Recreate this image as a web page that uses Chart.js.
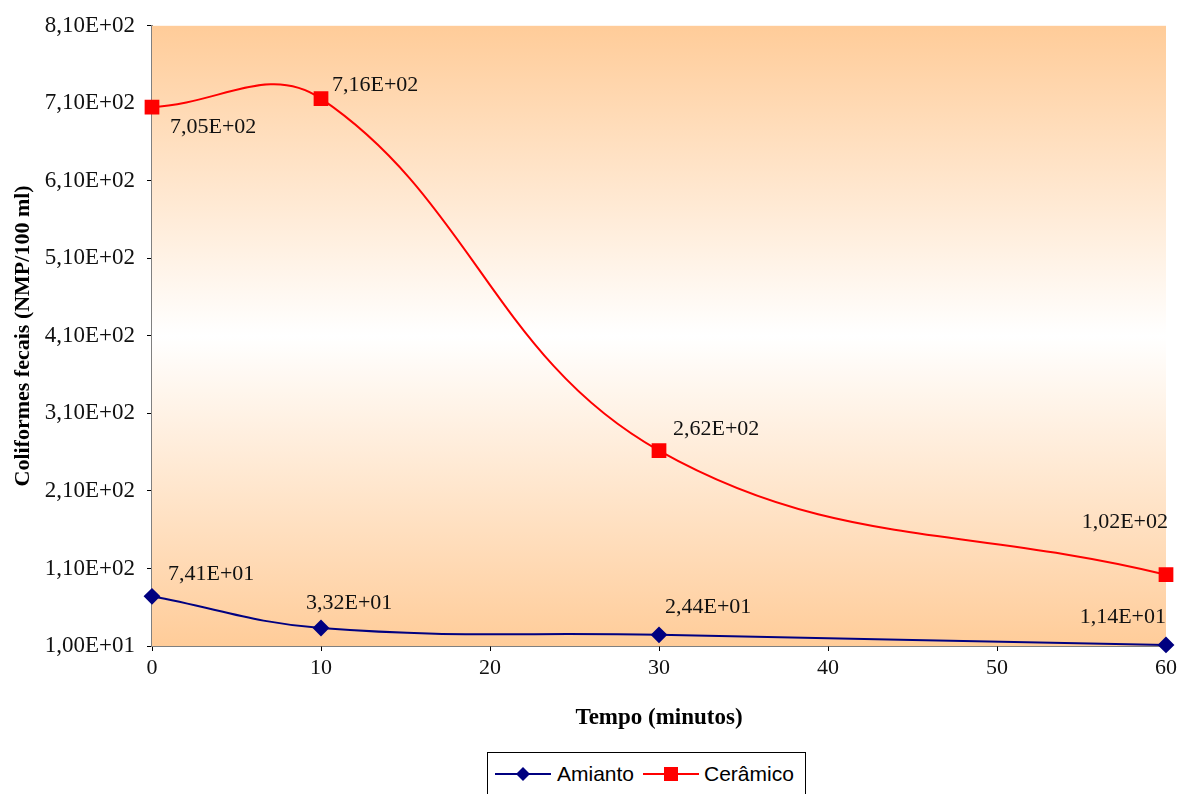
<!DOCTYPE html>
<html lang="pt">
<head>
<meta charset="utf-8">
<title>Coliformes fecais</title>
<script src="https://cdn.jsdelivr.net/npm/chart.js@4.4.1/dist/chart.umd.min.js"></script>
<style>
  html, body { margin: 0; padding: 0; background: #fff; }
  #wrap { position: relative; width: 1186px; height: 794px; overflow: hidden; }
  #grafico { position: absolute; left: 0; top: 0; }
  #legenda {
    position: absolute; left: 487px; top: 752px; width: 317px; height: 60px;
    border: 1px solid #000; background: #fff;
    font-family: "Liberation Sans", Arial, sans-serif; font-size: 21px; color: #000;
  }
  #legenda .item { position: absolute; top: 8px; height: 26px; line-height: 26px; white-space: nowrap; }
  #legenda svg { position: absolute; top: 14px; }
</style>
</head>
<body>
<div id="wrap">
  <canvas id="grafico" width="1186" height="794"></canvas>
  <div id="legenda">
    <svg style="left:7px" width="56" height="14" viewBox="0 0 56 14">
      <line x1="0" y1="7" x2="56" y2="7" stroke="#000080" stroke-width="2"/>
      <polygon points="28,0 35,7 28,14 21,7" fill="#000080"/>
    </svg>
    <span class="item" style="left:69px">Amianto</span>
    <svg style="left:155px" width="56" height="14" viewBox="0 0 56 14">
      <line x1="0" y1="7" x2="56" y2="7" stroke="#ff0000" stroke-width="2"/>
      <rect x="21" y="0" width="14" height="14" fill="#ff0000"/>
    </svg>
    <span class="item" style="left:216px">Cerâmico</span>
  </div>
</div>
<script>
// dados
const tempos = [0, 10, 30, 60];
const amianto = [74.1, 33.2, 24.4, 11.4];
const ceramico = [705, 716, 262, 102];
const yMin = 10, yMax = 810, yPasso = 100;
const xMin = 0, xMax = 60, xPasso = 10;

// deslocamento dos rótulos em relação ao ponto [dx, dy, alinhamento]
const rotulosAmianto = [[16, -22, 'left'], [-15, -25, 'left'], [6, -28, 'left'], [0, -28, 'right']];
const rotulosCeramico = [[18, 20, 'left'], [11, -13, 'left'], [14, -21, 'left'], [2, -52, 'right']];

const serif = '"Liberation Serif", "Times New Roman", serif';

function notacao(v) {
  const e = Math.floor(Math.log10(v) + 1e-9);
  const m = v / Math.pow(10, e);
  return m.toFixed(2).replace('.', ',') + 'E+' + String(e).padStart(2, '0');
}

const fundo = {
  id: 'fundo',
  beforeDatasetsDraw(chart) {
    const { ctx, chartArea: a } = chart;
    const g = ctx.createLinearGradient(0, a.top, 0, a.bottom);
    g.addColorStop(0, '#ffcc99');
    g.addColorStop(0.5, '#ffffff');
    g.addColorStop(1, '#ffcc99');
    ctx.save();
    ctx.fillStyle = g;
    ctx.fillRect(a.left, a.top, a.right - a.left, a.bottom - a.top);
    ctx.restore();
  }
};

const rotulos = {
  id: 'rotulos',
  afterDatasetsDraw(chart) {
    const { ctx } = chart;
    ctx.save();
    ctx.font = '22px ' + serif;
    ctx.fillStyle = '#111';
    ctx.textBaseline = 'middle';
    chart.data.datasets.forEach((ds, i) => {
      const meta = chart.getDatasetMeta(i);
      meta.data.forEach((p, j) => {
        const [dx, dy, al] = ds.rotulos[j];
        ctx.textAlign = al;
        ctx.fillText(notacao(ds.data[j].y), p.x + dx, p.y + dy);
      });
    });
    ctx.restore();
  }
};

new Chart(document.getElementById('grafico'), {
  type: 'line',
  data: {
    datasets: [
      {
        label: 'Amianto',
        data: tempos.map((t, i) => ({ x: t, y: amianto[i] })),
        borderColor: '#000080',
        backgroundColor: '#000080',
        borderWidth: 2,
        pointStyle: 'rectRot',
        pointRadius: 7,
        tension: 0.4,
        clip: false,
        rotulos: rotulosAmianto
      },
      {
        label: 'Cerâmico',
        data: tempos.map((t, i) => ({ x: t, y: ceramico[i] })),
        borderColor: '#ff0000',
        backgroundColor: '#ff0000',
        borderWidth: 2,
        pointStyle: 'rect',
        pointRadius: 9,
        tension: 0.4,
        clip: false,
        rotulos: rotulosCeramico
      }
    ]
  },
  options: {
    responsive: false,
    animation: false,
    layout: { padding: { top: 14, right: 20, left: 0, bottom: 62 } },
    plugins: {
      legend: { display: false },
      tooltip: { enabled: false }
    },
    scales: {
      x: {
        type: 'linear',
        min: xMin,
        max: xMax,
        ticks: { stepSize: xPasso, color: '#111', padding: 4, font: { family: serif, size: 22 } },
        grid: { drawOnChartArea: false, tickLength: 5, color: '#000' },
        border: { color: '#000', width: 1.5 },
        title: {
          display: true, text: 'Tempo (minutos)', color: '#000',
          font: { family: serif, size: 23, weight: 'bold' },
          padding: { top: 24, bottom: 0 }
        },
        afterFit(s) { s.height = 794 - 646 - 62; }
      },
      y: {
        min: yMin,
        max: yMax,
        ticks: {
          stepSize: yPasso, color: '#111', padding: 12,
          font: { family: serif, size: 23 },
          callback: v => notacao(v)
        },
        grid: { drawOnChartArea: false, tickLength: 5, color: '#000' },
        border: { color: '#808080', width: 2 },
        title: {
          display: true, text: 'Coliformes fecais (NMP/100 ml)', color: '#000',
          font: { family: serif, size: 22, weight: 'bold' },
          padding: { top: 10, bottom: 0 }
        },
        afterFit(s) { s.width = 152; }
      }
    }
  },
  plugins: [fundo, rotulos]
});
</script>
</body>
</html>
